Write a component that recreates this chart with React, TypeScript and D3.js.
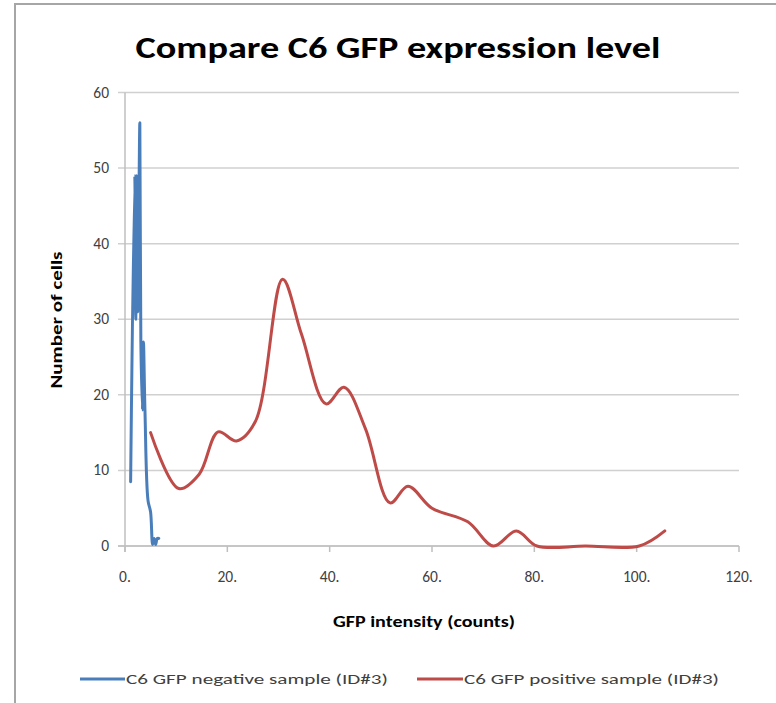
import React from "react";
import * as d3 from "d3";

const negX = [1.1, 1.9, 2.1, 2.3, 2.5, 2.9, 3.1, 3.4, 3.6, 3.9, 4.5, 5.0, 5.4, 5.7, 6.0, 6.3, 6.6];
const negY = [8.5, 49, 30, 49, 31, 56, 27, 18, 27, 18, 6, 4.5, 0.2, 1, 0.2, 1, 1];

const posX = [5.0, 10.5, 14.5, 18.2, 21.8, 25.5, 30.8, 34.5, 39.3, 42.8, 47.0, 51.8, 55.3, 60.0, 67.0, 72.0, 76.5, 80.5, 90.0, 100.5, 105.5];
const posY = [15, 7.6, 9.5, 15.1, 13.9, 16.5, 35.3, 28, 18.8, 21, 15.5, 5.7, 7.9, 5, 3.2, 0, 2, 0, 0, 0, 2];

const yTicks = [0, 10, 20, 30, 40, 50, 60];
const xTicks = [0, 20, 40, 60, 80, 100, 120];
const xTickLabels = ["0.", "20.", "40.", "60.", "80.", "100.", "120."];

const title = "Compare C6 GFP expression level";
const xTitle = "GFP intensity (counts)";
const yTitle = "Number of cells";
const seriesNames = ["C6 GFP negative sample (ID#3)", "C6 GFP positive sample (ID#3)"];

const BLUE = "#4a7ebb";
const RED = "#be4b48";

export default function App() {
  const W = 776, H = 703;
  const x = d3.scaleLinear().domain([0, 120]).range([125, 739]);
  const y = d3.scaleLinear().domain([0, 60]).range([546, 92.5]);
  const line = d3
    .line<[number, number]>()
    .x((d) => x(d[0]))
    .y((d) => y(d[1]))
    .curve(d3.curveCatmullRom.alpha(0.5));
  const neg = negX.map((v, i) => [v, negY[i]] as [number, number]);
  const pos = posX.map((v, i) => [v, posY[i]] as [number, number]);
  const font = "Calibri, Carlito, 'Open Sans', Lato, sans-serif";

  return (
    <svg
      width={W}
      height={H}
      style={{ position: "absolute", left: 0, top: 0, background: "#fff" }}
      fontFamily={font}
    >
      <rect x={0} y={0} width={W} height={H} fill="#fff" />
      <rect x={15} y={4} width={W + 20} height={H + 20} fill="#fff" stroke="#a6a6a6" strokeWidth={2} />
      <text
        x={398}
        y={58}
        textAnchor="middle"
        fontSize={30}
        fontWeight="600"
        fill="#000"
        textLength={525}
        lengthAdjust="spacingAndGlyphs"
      >
        {title}
      </text>
      {yTicks.map((t) => (
        <g key={"y" + t}>
          <line x1={118} x2={739} y1={y(t)} y2={y(t)} stroke="#d0d0d0" strokeWidth={1.5} />
          <text x={109} y={y(t) + 5} textAnchor="end" fontSize={15.5} fill="#404040">
            {t}
          </text>
        </g>
      ))}
      <line x1={125} x2={125} y1={y(60)} y2={y(0) + 6} stroke="#bfbfbf" strokeWidth={1.5} />
      <line x1={118} x2={739} y1={y(0)} y2={y(0)} stroke="#bfbfbf" strokeWidth={1.5} />
      {xTicks.map((t, i) => (
        <g key={"x" + t}>
          <line x1={x(t)} x2={x(t)} y1={y(0)} y2={y(0) + 6} stroke="#bfbfbf" strokeWidth={1.5} />
          <text x={x(t)} y={582} textAnchor="middle" fontSize={15.5} fill="#404040">
            {xTickLabels[i]}
          </text>
        </g>
      ))}
      <text
        x={424}
        y={627}
        textAnchor="middle"
        fontSize={15}
        fontWeight="600"
        fill="#000"
        textLength={182}
        lengthAdjust="spacingAndGlyphs"
      >
        {xTitle}
      </text>
      <text
        transform="translate(62,320) rotate(-90)"
        textAnchor="middle"
        fontSize={15}
        fontWeight="600"
        fill="#000"
        textLength={137}
        lengthAdjust="spacingAndGlyphs"
      >
        {yTitle}
      </text>
      <path d={line(pos) || ""} fill="none" stroke={RED} strokeWidth={3} strokeLinejoin="round" strokeLinecap="round" />
      <path d={line(neg) || ""} fill="none" stroke={BLUE} strokeWidth={3} strokeLinejoin="round" strokeLinecap="round" />
      <line x1={80} x2={125} y1={679} y2={679} stroke={BLUE} strokeWidth={3} />
      <text x={126} y={684} fontSize={15} fill="#404040" textLength={262} lengthAdjust="spacingAndGlyphs">
        {seriesNames[0]}
      </text>
      <line x1={417} x2={463} y1={679} y2={679} stroke={RED} strokeWidth={3} />
      <text x={464} y={684} fontSize={15} fill="#404040" textLength={255} lengthAdjust="spacingAndGlyphs">
        {seriesNames[1]}
      </text>
    </svg>
  );
}
